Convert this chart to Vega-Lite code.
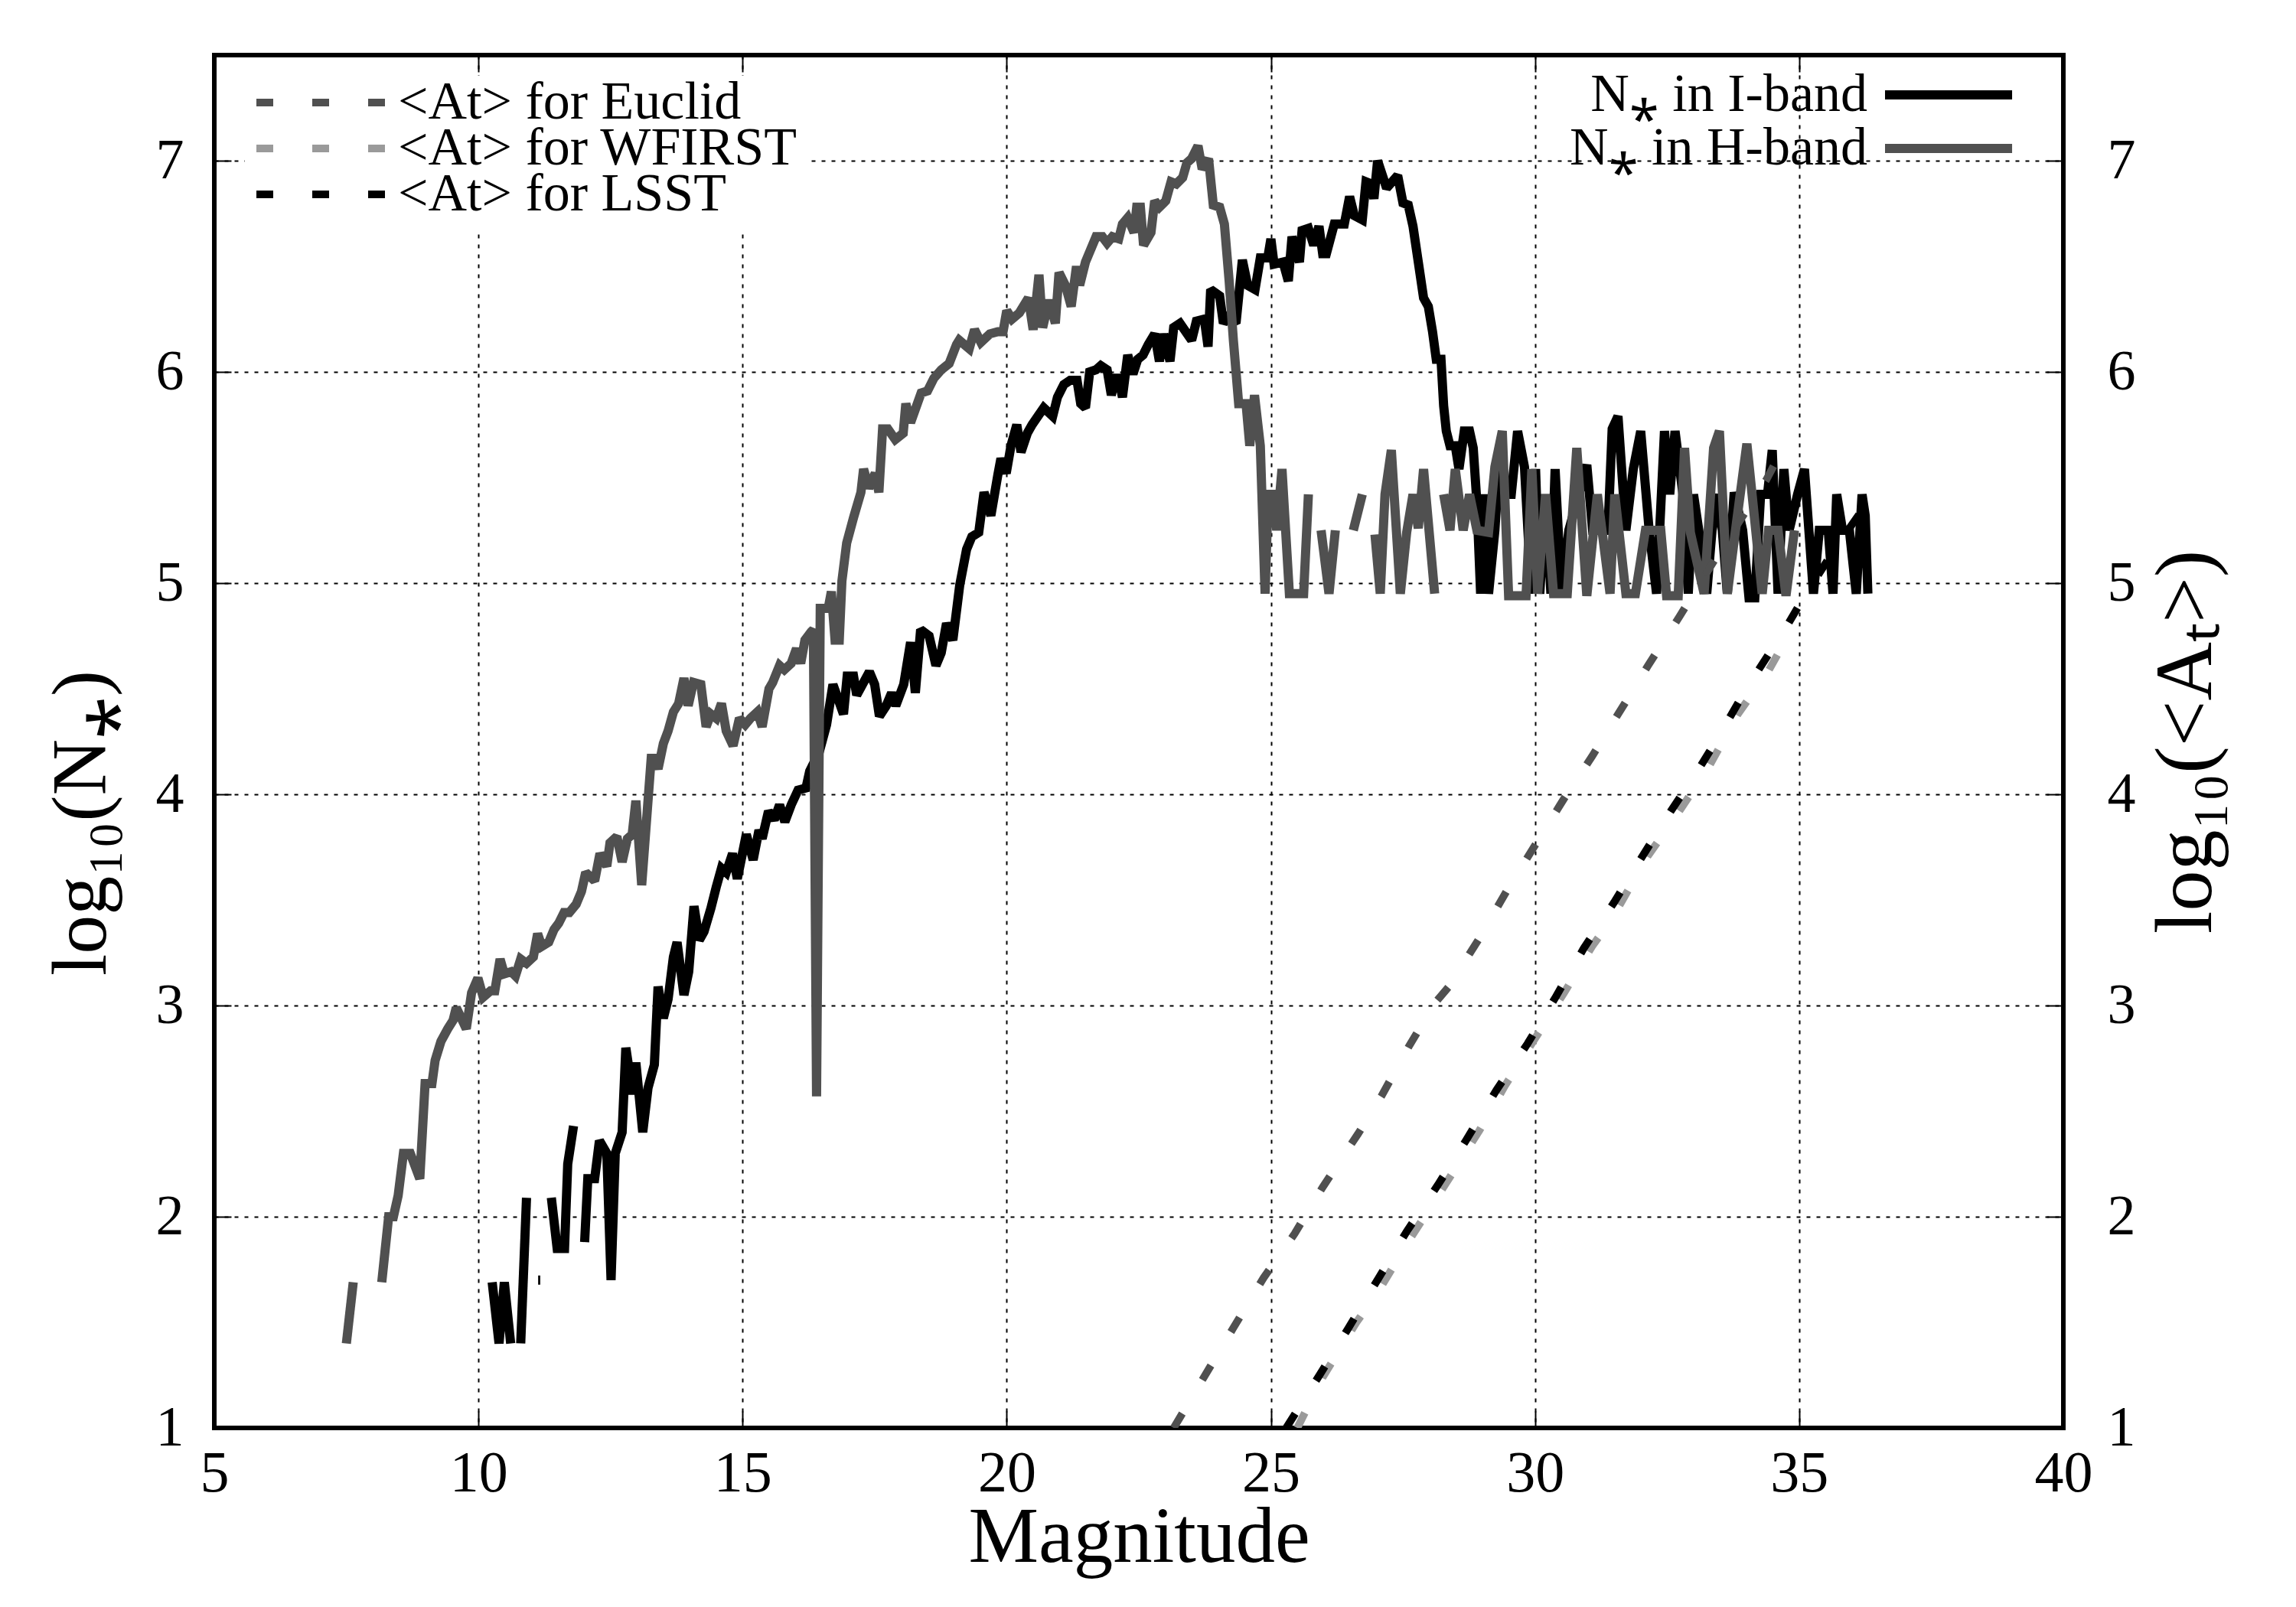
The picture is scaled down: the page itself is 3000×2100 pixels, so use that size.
{
"$schema": "https://vega.github.io/schema/vega-lite/v6.json",
"width": 2416, "height": 1794,
"autosize": {"type": "none"},
"padding": {"left": 280, "top": 72, "right": 304, "bottom": 234},
"background": "white",
"config": {
 "font": "Liberation Serif",
 "view": {"stroke": "black", "strokeWidth": 6},
 "axis": {"domain": false, "tickColor": "black", "tickWidth": 2, "tickSize": -22, "labelColor": "black", "titleColor": "black", "titleFontWeight": "normal", "gridColor": "black", "gridWidth": 2, "gridDash": [5, 8], "gridOpacity": 1, "labelFlush": false, "labelOverlap": false},
 "legend": {"labelColor": "black", "labelFontSize": 70, "labelLimit": 0, "title": null}
},
"datasets": {
 "nstar": [
  {"s":"N⁎ in I-band","g":"I1","m":10.26,"v":1.69},{"s":"N⁎ in I-band","g":"I1","m":10.39,"v":1.40},{"s":"N⁎ in I-band","g":"I1","m":10.49,"v":1.69},{"s":"N⁎ in I-band","g":"I1","m":10.61,"v":1.40},
  {"s":"N⁎ in I-band","g":"I2","m":10.80,"v":1.40},{"s":"N⁎ in I-band","g":"I2","m":10.91,"v":2.09},
  {"s":"N⁎ in I-band","g":"I3","m":11.13,"v":1.70},{"s":"N⁎ in I-band","g":"I3","m":11.17,"v":1.70},
  {"s":"N⁎ in I-band","g":"I4","m":11.38,"v":2.09},{"s":"N⁎ in I-band","g":"I4","m":11.49,"v":1.85},{"s":"N⁎ in I-band","g":"I4","m":11.63,"v":1.85},{"s":"N⁎ in I-band","g":"I4","m":11.69,"v":2.25},{"s":"N⁎ in I-band","g":"I4","m":11.80,"v":2.43},
  {"s":"N⁎ in I-band","g":"I5","m":12.01,"v":1.88},{"s":"N⁎ in I-band","g":"I5","m":12.07,"v":2.18},{"s":"N⁎ in I-band","g":"I5","m":12.20,"v":2.18},{"s":"N⁎ in I-band","g":"I5","m":12.29,"v":2.36},{"s":"N⁎ in I-band","g":"I5","m":12.43,"v":2.30},{"s":"N⁎ in I-band","g":"I5","m":12.51,"v":1.70},{"s":"N⁎ in I-band","g":"I5","m":12.59,"v":2.30},{"s":"N⁎ in I-band","g":"I5","m":12.72,"v":2.40},{"s":"N⁎ in I-band","g":"I5","m":12.79,"v":2.80},{"s":"N⁎ in I-band","g":"I5","m":12.92,"v":2.58},{"s":"N⁎ in I-band","g":"I5","m":12.98,"v":2.73},{"s":"N⁎ in I-band","g":"I5","m":13.11,"v":2.40},{"s":"N⁎ in I-band","g":"I5","m":13.21,"v":2.61},{"s":"N⁎ in I-band","g":"I5","m":13.33,"v":2.72},{"s":"N⁎ in I-band","g":"I5","m":13.40,"v":3.09},{"s":"N⁎ in I-band","g":"I5","m":13.50,"v":2.94},{"s":"N⁎ in I-band","g":"I5","m":13.59,"v":3.03},{"s":"N⁎ in I-band","g":"I5","m":13.69,"v":3.23},{"s":"N⁎ in I-band","g":"I5","m":13.76,"v":3.30},{"s":"N⁎ in I-band","g":"I5","m":13.89,"v":3.05},{"s":"N⁎ in I-band","g":"I5","m":13.98,"v":3.16},{"s":"N⁎ in I-band","g":"I5","m":14.08,"v":3.47},{"s":"N⁎ in I-band","g":"I5","m":14.18,"v":3.31},{"s":"N⁎ in I-band","g":"I5","m":14.27,"v":3.35},{"s":"N⁎ in I-band","g":"I5","m":14.40,"v":3.46},{"s":"N⁎ in I-band","g":"I5","m":14.50,"v":3.56},{"s":"N⁎ in I-band","g":"I5","m":14.60,"v":3.65},{"s":"N⁎ in I-band","g":"I5","m":14.69,"v":3.63},{"s":"N⁎ in I-band","g":"I5","m":14.81,"v":3.72},{"s":"N⁎ in I-band","g":"I5","m":14.90,"v":3.60},{"s":"N⁎ in I-band","g":"I5","m":15.07,"v":3.81},{"s":"N⁎ in I-band","g":"I5","m":15.20,"v":3.69},{"s":"N⁎ in I-band","g":"I5","m":15.31,"v":3.83},{"s":"N⁎ in I-band","g":"I5","m":15.37,"v":3.79},{"s":"N⁎ in I-band","g":"I5","m":15.49,"v":3.92},{"s":"N⁎ in I-band","g":"I5","m":15.60,"v":3.88},{"s":"N⁎ in I-band","g":"I5","m":15.70,"v":3.95},{"s":"N⁎ in I-band","g":"I5","m":15.80,"v":3.87},{"s":"N⁎ in I-band","g":"I5","m":15.92,"v":3.95},{"s":"N⁎ in I-band","g":"I5","m":16.05,"v":4.02},{"s":"N⁎ in I-band","g":"I5","m":16.20,"v":4.03},{"s":"N⁎ in I-band","g":"I5","m":16.27,"v":4.11},{"s":"N⁎ in I-band","g":"I5","m":16.45,"v":4.20},{"s":"N⁎ in I-band","g":"I5","m":16.59,"v":4.33},{"s":"N⁎ in I-band","g":"I5","m":16.71,"v":4.52},{"s":"N⁎ in I-band","g":"I5","m":16.91,"v":4.38},{"s":"N⁎ in I-band","g":"I5","m":16.98,"v":4.56},{"s":"N⁎ in I-band","g":"I5","m":17.10,"v":4.56},{"s":"N⁎ in I-band","g":"I5","m":17.16,"v":4.47},{"s":"N⁎ in I-band","g":"I5","m":17.27,"v":4.52},{"s":"N⁎ in I-band","g":"I5","m":17.40,"v":4.58},{"s":"N⁎ in I-band","g":"I5","m":17.50,"v":4.52},{"s":"N⁎ in I-band","g":"I5","m":17.59,"v":4.37},{"s":"N⁎ in I-band","g":"I5","m":17.72,"v":4.42},{"s":"N⁎ in I-band","g":"I5","m":17.82,"v":4.48},{"s":"N⁎ in I-band","g":"I5","m":17.90,"v":4.42},{"s":"N⁎ in I-band","g":"I5","m":18.05,"v":4.52},{"s":"N⁎ in I-band","g":"I5","m":18.18,"v":4.72},{"s":"N⁎ in I-band","g":"I5","m":18.27,"v":4.48},{"s":"N⁎ in I-band","g":"I5","m":18.37,"v":4.78},{"s":"N⁎ in I-band","g":"I5","m":18.53,"v":4.75},{"s":"N⁎ in I-band","g":"I5","m":18.66,"v":4.61},{"s":"N⁎ in I-band","g":"I5","m":18.76,"v":4.67},{"s":"N⁎ in I-band","g":"I5","m":18.86,"v":4.81},{"s":"N⁎ in I-band","g":"I5","m":18.98,"v":4.73},{"s":"N⁎ in I-band","g":"I5","m":19.11,"v":4.99},{"s":"N⁎ in I-band","g":"I5","m":19.24,"v":5.16},{"s":"N⁎ in I-band","g":"I5","m":19.34,"v":5.22},{"s":"N⁎ in I-band","g":"I5","m":19.47,"v":5.24},{"s":"N⁎ in I-band","g":"I5","m":19.57,"v":5.43},{"s":"N⁎ in I-band","g":"I5","m":19.70,"v":5.32},{"s":"N⁎ in I-band","g":"I5","m":19.83,"v":5.51},{"s":"N⁎ in I-band","g":"I5","m":19.89,"v":5.59},{"s":"N⁎ in I-band","g":"I5","m":19.99,"v":5.52},{"s":"N⁎ in I-band","g":"I5","m":20.08,"v":5.65},{"s":"N⁎ in I-band","g":"I5","m":20.19,"v":5.75},{"s":"N⁎ in I-band","g":"I5","m":20.27,"v":5.62},{"s":"N⁎ in I-band","g":"I5","m":20.39,"v":5.71},{"s":"N⁎ in I-band","g":"I5","m":20.48,"v":5.75},{"s":"N⁎ in I-band","g":"I5","m":20.70,"v":5.83},{"s":"N⁎ in I-band","g":"I5","m":20.87,"v":5.79},{"s":"N⁎ in I-band","g":"I5","m":20.96,"v":5.88},{"s":"N⁎ in I-band","g":"I5","m":21.08,"v":5.94},{"s":"N⁎ in I-band","g":"I5","m":21.20,"v":5.96},{"s":"N⁎ in I-band","g":"I5","m":21.33,"v":5.96},{"s":"N⁎ in I-band","g":"I5","m":21.40,"v":5.85},{"s":"N⁎ in I-band","g":"I5","m":21.49,"v":5.83},{"s":"N⁎ in I-band","g":"I5","m":21.57,"v":6.00},{"s":"N⁎ in I-band","g":"I5","m":21.69,"v":6.01},{"s":"N⁎ in I-band","g":"I5","m":21.78,"v":6.03},{"s":"N⁎ in I-band","g":"I5","m":21.90,"v":6.01},{"s":"N⁎ in I-band","g":"I5","m":21.98,"v":5.89},{"s":"N⁎ in I-band","g":"I5","m":22.05,"v":5.97},{"s":"N⁎ in I-band","g":"I5","m":22.12,"v":5.97},{"s":"N⁎ in I-band","g":"I5","m":22.19,"v":5.88},{"s":"N⁎ in I-band","g":"I5","m":22.29,"v":6.08},{"s":"N⁎ in I-band","g":"I5","m":22.39,"v":5.99},{"s":"N⁎ in I-band","g":"I5","m":22.48,"v":6.06},{"s":"N⁎ in I-band","g":"I5","m":22.58,"v":6.08},{"s":"N⁎ in I-band","g":"I5","m":22.68,"v":6.13},{"s":"N⁎ in I-band","g":"I5","m":22.80,"v":6.18},{"s":"N⁎ in I-band","g":"I5","m":22.89,"v":6.05},{"s":"N⁎ in I-band","g":"I5","m":22.97,"v":6.18},{"s":"N⁎ in I-band","g":"I5","m":23.09,"v":6.05},{"s":"N⁎ in I-band","g":"I5","m":23.16,"v":6.21},{"s":"N⁎ in I-band","g":"I5","m":23.28,"v":6.23},{"s":"N⁎ in I-band","g":"I5","m":23.50,"v":6.15},{"s":"N⁎ in I-band","g":"I5","m":23.59,"v":6.24},{"s":"N⁎ in I-band","g":"I5","m":23.74,"v":6.25},{"s":"N⁎ in I-band","g":"I5","m":23.81,"v":6.12},{"s":"N⁎ in I-band","g":"I5","m":23.86,"v":6.39},{"s":"N⁎ in I-band","g":"I5","m":24.03,"v":6.36},{"s":"N⁎ in I-band","g":"I5","m":24.10,"v":6.23},{"s":"N⁎ in I-band","g":"I5","m":24.19,"v":6.26},{"s":"N⁎ in I-band","g":"I5","m":24.34,"v":6.23},{"s":"N⁎ in I-band","g":"I5","m":24.46,"v":6.53},{"s":"N⁎ in I-band","g":"I5","m":24.56,"v":6.41},{"s":"N⁎ in I-band","g":"I5","m":24.70,"v":6.39},{"s":"N⁎ in I-band","g":"I5","m":24.80,"v":6.54},{"s":"N⁎ in I-band","g":"I5","m":24.94,"v":6.54},{"s":"N⁎ in I-band","g":"I5","m":25.00,"v":6.63},{"s":"N⁎ in I-band","g":"I5","m":25.06,"v":6.51},{"s":"N⁎ in I-band","g":"I5","m":25.23,"v":6.52},{"s":"N⁎ in I-band","g":"I5","m":25.33,"v":6.43},{"s":"N⁎ in I-band","g":"I5","m":25.40,"v":6.64},{"s":"N⁎ in I-band","g":"I5","m":25.54,"v":6.52},{"s":"N⁎ in I-band","g":"I5","m":25.59,"v":6.67},{"s":"N⁎ in I-band","g":"I5","m":25.71,"v":6.68},{"s":"N⁎ in I-band","g":"I5","m":25.81,"v":6.60},{"s":"N⁎ in I-band","g":"I5","m":25.91,"v":6.69},{"s":"N⁎ in I-band","g":"I5","m":25.98,"v":6.56},{"s":"N⁎ in I-band","g":"I5","m":26.05,"v":6.56},{"s":"N⁎ in I-band","g":"I5","m":26.20,"v":6.70},{"s":"N⁎ in I-band","g":"I5","m":26.39,"v":6.70},{"s":"N⁎ in I-band","g":"I5","m":26.49,"v":6.83},{"s":"N⁎ in I-band","g":"I5","m":26.58,"v":6.74},{"s":"N⁎ in I-band","g":"I5","m":26.73,"v":6.72},{"s":"N⁎ in I-band","g":"I5","m":26.80,"v":6.90},{"s":"N⁎ in I-band","g":"I5","m":26.90,"v":6.89},{"s":"N⁎ in I-band","g":"I5","m":26.95,"v":6.82},{"s":"N⁎ in I-band","g":"I5","m":27.02,"v":7.00},{"s":"N⁎ in I-band","g":"I5","m":27.19,"v":6.87},{"s":"N⁎ in I-band","g":"I5","m":27.40,"v":6.93},{"s":"N⁎ in I-band","g":"I5","m":27.50,"v":6.80},{"s":"N⁎ in I-band","g":"I5","m":27.60,"v":6.79},{"s":"N⁎ in I-band","g":"I5","m":27.69,"v":6.69},{"s":"N⁎ in I-band","g":"I5","m":27.79,"v":6.52},{"s":"N⁎ in I-band","g":"I5","m":27.89,"v":6.35},{"s":"N⁎ in I-band","g":"I5","m":27.98,"v":6.31},{"s":"N⁎ in I-band","g":"I5","m":28.06,"v":6.19},{"s":"N⁎ in I-band","g":"I5","m":28.13,"v":6.06},{"s":"N⁎ in I-band","g":"I5","m":28.22,"v":6.06},{"s":"N⁎ in I-band","g":"I5","m":28.27,"v":5.84},{"s":"N⁎ in I-band","g":"I5","m":28.32,"v":5.72},{"s":"N⁎ in I-band","g":"I5","m":28.39,"v":5.65},{"s":"N⁎ in I-band","g":"I5","m":28.49,"v":5.65},{"s":"N⁎ in I-band","g":"I5","m":28.56,"v":5.54},{"s":"N⁎ in I-band","g":"I5","m":28.66,"v":5.72},{"s":"N⁎ in I-band","g":"I5","m":28.76,"v":5.72},{"s":"N⁎ in I-band","g":"I5","m":28.83,"v":5.64},{"s":"N⁎ in I-band","g":"I5","m":28.90,"v":5.38},{"s":"N⁎ in I-band","g":"I5","m":28.97,"v":4.95},{"s":"N⁎ in I-band","g":"I5","m":29.05,"v":5.42},{"s":"N⁎ in I-band","g":"I5","m":29.12,"v":4.95},{"s":"N⁎ in I-band","g":"I5","m":29.24,"v":5.25},{"s":"N⁎ in I-band","g":"I5","m":29.31,"v":5.53},{"s":"N⁎ in I-band","g":"I5","m":29.45,"v":5.42},{"s":"N⁎ in I-band","g":"I5","m":29.55,"v":5.42},{"s":"N⁎ in I-band","g":"I5","m":29.67,"v":5.72},{"s":"N⁎ in I-band","g":"I5","m":29.80,"v":5.55},{"s":"N⁎ in I-band","g":"I5","m":29.93,"v":4.95},{"s":"N⁎ in I-band","g":"I5","m":30.01,"v":5.54},{"s":"N⁎ in I-band","g":"I5","m":30.09,"v":4.95},{"s":"N⁎ in I-band","g":"I5","m":30.20,"v":5.42},{"s":"N⁎ in I-band","g":"I5","m":30.30,"v":4.95},{"s":"N⁎ in I-band","g":"I5","m":30.38,"v":5.54},{"s":"N⁎ in I-band","g":"I5","m":30.50,"v":4.95},{"s":"N⁎ in I-band","g":"I5","m":30.64,"v":5.25},{"s":"N⁎ in I-band","g":"I5","m":30.98,"v":5.56},{"s":"N⁎ in I-band","g":"I5","m":31.09,"v":5.25},{"s":"N⁎ in I-band","g":"I5","m":31.38,"v":5.25},{"s":"N⁎ in I-band","g":"I5","m":31.46,"v":5.73},{"s":"N⁎ in I-band","g":"I5","m":31.57,"v":5.79},{"s":"N⁎ in I-band","g":"I5","m":31.72,"v":5.25},{"s":"N⁎ in I-band","g":"I5","m":31.86,"v":5.54},{"s":"N⁎ in I-band","g":"I5","m":32.00,"v":5.72},{"s":"N⁎ in I-band","g":"I5","m":32.16,"v":5.25},{"s":"N⁎ in I-band","g":"I5","m":32.30,"v":4.95},{"s":"N⁎ in I-band","g":"I5","m":32.45,"v":5.72},{"s":"N⁎ in I-band","g":"I5","m":32.55,"v":5.42},{"s":"N⁎ in I-band","g":"I5","m":32.65,"v":5.72},{"s":"N⁎ in I-band","g":"I5","m":32.80,"v":5.42},{"s":"N⁎ in I-band","g":"I5","m":32.90,"v":4.95},{"s":"N⁎ in I-band","g":"I5","m":33.00,"v":5.42},{"s":"N⁎ in I-band","g":"I5","m":33.10,"v":5.25},{"s":"N⁎ in I-band","g":"I5","m":33.25,"v":4.95},{"s":"N⁎ in I-band","g":"I5","m":33.35,"v":5.25},{"s":"N⁎ in I-band","g":"I5","m":33.49,"v":5.42},{"s":"N⁎ in I-band","g":"I5","m":33.64,"v":4.95},{"s":"N⁎ in I-band","g":"I5","m":33.77,"v":5.43},{"s":"N⁎ in I-band","g":"I5","m":33.93,"v":5.25},{"s":"N⁎ in I-band","g":"I5","m":34.05,"v":4.93},{"s":"N⁎ in I-band","g":"I5","m":34.16,"v":4.93},{"s":"N⁎ in I-band","g":"I5","m":34.27,"v":5.42},{"s":"N⁎ in I-band","g":"I5","m":34.40,"v":5.42},{"s":"N⁎ in I-band","g":"I5","m":34.49,"v":5.63},{"s":"N⁎ in I-band","g":"I5","m":34.60,"v":4.95},{"s":"N⁎ in I-band","g":"I5","m":34.71,"v":5.54},{"s":"N⁎ in I-band","g":"I5","m":34.81,"v":5.25},{"s":"N⁎ in I-band","g":"I5","m":34.97,"v":5.42},{"s":"N⁎ in I-band","g":"I5","m":35.10,"v":5.54},{"s":"N⁎ in I-band","g":"I5","m":35.27,"v":4.95},{"s":"N⁎ in I-band","g":"I5","m":35.38,"v":5.25},{"s":"N⁎ in I-band","g":"I5","m":35.55,"v":5.25},{"s":"N⁎ in I-band","g":"I5","m":35.64,"v":4.95},{"s":"N⁎ in I-band","g":"I5","m":35.71,"v":5.42},{"s":"N⁎ in I-band","g":"I5","m":35.82,"v":5.25},{"s":"N⁎ in I-band","g":"I5","m":35.95,"v":5.25},{"s":"N⁎ in I-band","g":"I5","m":36.08,"v":4.95},{"s":"N⁎ in I-band","g":"I5","m":36.19,"v":5.42},{"s":"N⁎ in I-band","g":"I5","m":36.25,"v":5.32},{"s":"N⁎ in I-band","g":"I5","m":36.30,"v":4.95},
  {"s":"N⁎ in H-band","g":"H1","m":7.50,"v":1.40},{"s":"N⁎ in H-band","g":"H1","m":7.63,"v":1.69},
  {"s":"N⁎ in H-band","g":"H2","m":8.17,"v":1.69},{"s":"N⁎ in H-band","g":"H2","m":8.30,"v":2.00},{"s":"N⁎ in H-band","g":"H2","m":8.39,"v":2.00},{"s":"N⁎ in H-band","g":"H2","m":8.48,"v":2.10},{"s":"N⁎ in H-band","g":"H2","m":8.58,"v":2.30},{"s":"N⁎ in H-band","g":"H2","m":8.71,"v":2.30},{"s":"N⁎ in H-band","g":"H2","m":8.89,"v":2.18},{"s":"N⁎ in H-band","g":"H2","m":8.99,"v":2.63},{"s":"N⁎ in H-band","g":"H2","m":9.12,"v":2.63},{"s":"N⁎ in H-band","g":"H2","m":9.18,"v":2.74},{"s":"N⁎ in H-band","g":"H2","m":9.29,"v":2.83},{"s":"N⁎ in H-band","g":"H2","m":9.42,"v":2.89},{"s":"N⁎ in H-band","g":"H2","m":9.52,"v":2.93},{"s":"N⁎ in H-band","g":"H2","m":9.58,"v":2.99},{"s":"N⁎ in H-band","g":"H2","m":9.77,"v":2.89},{"s":"N⁎ in H-band","g":"H2","m":9.87,"v":3.06},{"s":"N⁎ in H-band","g":"H2","m":9.99,"v":3.13},{"s":"N⁎ in H-band","g":"H2","m":10.09,"v":3.04},{"s":"N⁎ in H-band","g":"H2","m":10.23,"v":3.07},{"s":"N⁎ in H-band","g":"H2","m":10.31,"v":3.07},{"s":"N⁎ in H-band","g":"H2","m":10.41,"v":3.22},{"s":"N⁎ in H-band","g":"H2","m":10.49,"v":3.15},{"s":"N⁎ in H-band","g":"H2","m":10.62,"v":3.16},{"s":"N⁎ in H-band","g":"H2","m":10.70,"v":3.14},{"s":"N⁎ in H-band","g":"H2","m":10.80,"v":3.22},{"s":"N⁎ in H-band","g":"H2","m":10.91,"v":3.20},{"s":"N⁎ in H-band","g":"H2","m":11.04,"v":3.23},{"s":"N⁎ in H-band","g":"H2","m":11.12,"v":3.34},{"s":"N⁎ in H-band","g":"H2","m":11.20,"v":3.28},{"s":"N⁎ in H-band","g":"H2","m":11.33,"v":3.30},{"s":"N⁎ in H-band","g":"H2","m":11.43,"v":3.36},{"s":"N⁎ in H-band","g":"H2","m":11.52,"v":3.39},{"s":"N⁎ in H-band","g":"H2","m":11.62,"v":3.44},{"s":"N⁎ in H-band","g":"H2","m":11.72,"v":3.44},{"s":"N⁎ in H-band","g":"H2","m":11.85,"v":3.48},{"s":"N⁎ in H-band","g":"H2","m":11.95,"v":3.54},{"s":"N⁎ in H-band","g":"H2","m":12.03,"v":3.63},{"s":"N⁎ in H-band","g":"H2","m":12.20,"v":3.59},{"s":"N⁎ in H-band","g":"H2","m":12.30,"v":3.72},{"s":"N⁎ in H-band","g":"H2","m":12.43,"v":3.66},{"s":"N⁎ in H-band","g":"H2","m":12.49,"v":3.77},{"s":"N⁎ in H-band","g":"H2","m":12.62,"v":3.80},{"s":"N⁎ in H-band","g":"H2","m":12.72,"v":3.68},{"s":"N⁎ in H-band","g":"H2","m":12.82,"v":3.79},{"s":"N⁎ in H-band","g":"H2","m":12.91,"v":3.81},{"s":"N⁎ in H-band","g":"H2","m":12.98,"v":3.97},{"s":"N⁎ in H-band","g":"H2","m":13.09,"v":3.57},{"s":"N⁎ in H-band","g":"H2","m":13.27,"v":4.17},{"s":"N⁎ in H-band","g":"H2","m":13.33,"v":4.17},{"s":"N⁎ in H-band","g":"H2","m":13.40,"v":4.12},{"s":"N⁎ in H-band","g":"H2","m":13.50,"v":4.24},{"s":"N⁎ in H-band","g":"H2","m":13.59,"v":4.30},{"s":"N⁎ in H-band","g":"H2","m":13.69,"v":4.39},{"s":"N⁎ in H-band","g":"H2","m":13.79,"v":4.43},{"s":"N⁎ in H-band","g":"H2","m":13.89,"v":4.55},{"s":"N⁎ in H-band","g":"H2","m":13.97,"v":4.42},{"s":"N⁎ in H-band","g":"H2","m":14.07,"v":4.53},{"s":"N⁎ in H-band","g":"H2","m":14.21,"v":4.52},{"s":"N⁎ in H-band","g":"H2","m":14.31,"v":4.32},{"s":"N⁎ in H-band","g":"H2","m":14.40,"v":4.38},{"s":"N⁎ in H-band","g":"H2","m":14.50,"v":4.36},{"s":"N⁎ in H-band","g":"H2","m":14.60,"v":4.43},{"s":"N⁎ in H-band","g":"H2","m":14.69,"v":4.30},{"s":"N⁎ in H-band","g":"H2","m":14.82,"v":4.23},{"s":"N⁎ in H-band","g":"H2","m":14.94,"v":4.36},{"s":"N⁎ in H-band","g":"H2","m":15.05,"v":4.33},{"s":"N⁎ in H-band","g":"H2","m":15.15,"v":4.36},{"s":"N⁎ in H-band","g":"H2","m":15.28,"v":4.39},{"s":"N⁎ in H-band","g":"H2","m":15.37,"v":4.32},{"s":"N⁎ in H-band","g":"H2","m":15.50,"v":4.50},{"s":"N⁎ in H-band","g":"H2","m":15.57,"v":4.53},{"s":"N⁎ in H-band","g":"H2","m":15.70,"v":4.61},{"s":"N⁎ in H-band","g":"H2","m":15.79,"v":4.59},{"s":"N⁎ in H-band","g":"H2","m":15.92,"v":4.62},{"s":"N⁎ in H-band","g":"H2","m":16.02,"v":4.69},{"s":"N⁎ in H-band","g":"H2","m":16.10,"v":4.62},{"s":"N⁎ in H-band","g":"H2","m":16.18,"v":4.73},{"s":"N⁎ in H-band","g":"H2","m":16.30,"v":4.77},{"s":"N⁎ in H-band","g":"H2","m":16.34,"v":4.78},{"s":"N⁎ in H-band","g":"H2","m":16.40,"v":2.57},{"s":"N⁎ in H-band","g":"H2","m":16.47,"v":4.88},{"s":"N⁎ in H-band","g":"H2","m":16.62,"v":4.88},{"s":"N⁎ in H-band","g":"H2","m":16.68,"v":4.96},{"s":"N⁎ in H-band","g":"H2","m":16.75,"v":4.73},{"s":"N⁎ in H-band","g":"H2","m":16.83,"v":4.73},{"s":"N⁎ in H-band","g":"H2","m":16.88,"v":5.01},{"s":"N⁎ in H-band","g":"H2","m":16.97,"v":5.19},{"s":"N⁎ in H-band","g":"H2","m":17.10,"v":5.31},{"s":"N⁎ in H-band","g":"H2","m":17.24,"v":5.43},{"s":"N⁎ in H-band","g":"H2","m":17.29,"v":5.54},{"s":"N⁎ in H-band","g":"H2","m":17.39,"v":5.45},{"s":"N⁎ in H-band","g":"H2","m":17.51,"v":5.52},{"s":"N⁎ in H-band","g":"H2","m":17.58,"v":5.43},{"s":"N⁎ in H-band","g":"H2","m":17.65,"v":5.73},{"s":"N⁎ in H-band","g":"H2","m":17.75,"v":5.73},{"s":"N⁎ in H-band","g":"H2","m":17.89,"v":5.68},{"s":"N⁎ in H-band","g":"H2","m":18.04,"v":5.71},{"s":"N⁎ in H-band","g":"H2","m":18.09,"v":5.85},{"s":"N⁎ in H-band","g":"H2","m":18.18,"v":5.76},{"s":"N⁎ in H-band","g":"H2","m":18.38,"v":5.90},{"s":"N⁎ in H-band","g":"H2","m":18.50,"v":5.91},{"s":"N⁎ in H-band","g":"H2","m":18.62,"v":5.97},{"s":"N⁎ in H-band","g":"H2","m":18.76,"v":6.01},{"s":"N⁎ in H-band","g":"H2","m":18.91,"v":6.04},{"s":"N⁎ in H-band","g":"H2","m":19.05,"v":6.13},{"s":"N⁎ in H-band","g":"H2","m":19.10,"v":6.15},{"s":"N⁎ in H-band","g":"H2","m":19.29,"v":6.11},{"s":"N⁎ in H-band","g":"H2","m":19.39,"v":6.20},{"s":"N⁎ in H-band","g":"H2","m":19.51,"v":6.14},{"s":"N⁎ in H-band","g":"H2","m":19.68,"v":6.18},{"s":"N⁎ in H-band","g":"H2","m":19.83,"v":6.19},{"s":"N⁎ in H-band","g":"H2","m":19.93,"v":6.19},{"s":"N⁎ in H-band","g":"H2","m":20.00,"v":6.29},{"s":"N⁎ in H-band","g":"H2","m":20.10,"v":6.25},{"s":"N⁎ in H-band","g":"H2","m":20.24,"v":6.28},{"s":"N⁎ in H-band","g":"H2","m":20.41,"v":6.35},{"s":"N⁎ in H-band","g":"H2","m":20.50,"v":6.20},{"s":"N⁎ in H-band","g":"H2","m":20.61,"v":6.46},{"s":"N⁎ in H-band","g":"H2","m":20.68,"v":6.21},{"s":"N⁎ in H-band","g":"H2","m":20.80,"v":6.34},{"s":"N⁎ in H-band","g":"H2","m":20.92,"v":6.23},{"s":"N⁎ in H-band","g":"H2","m":20.99,"v":6.47},{"s":"N⁎ in H-band","g":"H2","m":21.11,"v":6.41},{"s":"N⁎ in H-band","g":"H2","m":21.22,"v":6.31},{"s":"N⁎ in H-band","g":"H2","m":21.32,"v":6.50},{"s":"N⁎ in H-band","g":"H2","m":21.38,"v":6.41},{"s":"N⁎ in H-band","g":"H2","m":21.49,"v":6.52},{"s":"N⁎ in H-band","g":"H2","m":21.69,"v":6.64},{"s":"N⁎ in H-band","g":"H2","m":21.81,"v":6.64},{"s":"N⁎ in H-band","g":"H2","m":21.90,"v":6.61},{"s":"N⁎ in H-band","g":"H2","m":22.00,"v":6.64},{"s":"N⁎ in H-band","g":"H2","m":22.12,"v":6.63},{"s":"N⁎ in H-band","g":"H2","m":22.19,"v":6.70},{"s":"N⁎ in H-band","g":"H2","m":22.29,"v":6.73},{"s":"N⁎ in H-band","g":"H2","m":22.41,"v":6.66},{"s":"N⁎ in H-band","g":"H2","m":22.46,"v":6.78},{"s":"N⁎ in H-band","g":"H2","m":22.53,"v":6.78},{"s":"N⁎ in H-band","g":"H2","m":22.59,"v":6.60},{"s":"N⁎ in H-band","g":"H2","m":22.73,"v":6.66},{"s":"N⁎ in H-band","g":"H2","m":22.80,"v":6.81},{"s":"N⁎ in H-band","g":"H2","m":22.89,"v":6.78},{"s":"N⁎ in H-band","g":"H2","m":23.01,"v":6.81},{"s":"N⁎ in H-band","g":"H2","m":23.11,"v":6.90},{"s":"N⁎ in H-band","g":"H2","m":23.21,"v":6.89},{"s":"N⁎ in H-band","g":"H2","m":23.33,"v":6.92},{"s":"N⁎ in H-band","g":"H2","m":23.41,"v":6.99},{"s":"N⁎ in H-band","g":"H2","m":23.50,"v":7.01},{"s":"N⁎ in H-band","g":"H2","m":23.62,"v":7.07},{"s":"N⁎ in H-band","g":"H2","m":23.70,"v":6.96},{"s":"N⁎ in H-band","g":"H2","m":23.82,"v":7.01},{"s":"N⁎ in H-band","g":"H2","m":23.91,"v":6.79},{"s":"N⁎ in H-band","g":"H2","m":24.03,"v":6.78},{"s":"N⁎ in H-band","g":"H2","m":24.12,"v":6.70},{"s":"N⁎ in H-band","g":"H2","m":24.21,"v":6.43},{"s":"N⁎ in H-band","g":"H2","m":24.29,"v":6.15},{"s":"N⁎ in H-band","g":"H2","m":24.39,"v":5.85},{"s":"N⁎ in H-band","g":"H2","m":24.53,"v":5.85},{"s":"N⁎ in H-band","g":"H2","m":24.60,"v":5.65},{"s":"N⁎ in H-band","g":"H2","m":24.69,"v":5.89},{"s":"N⁎ in H-band","g":"H2","m":24.80,"v":5.65},{"s":"N⁎ in H-band","g":"H2","m":24.89,"v":4.95},{"s":"N⁎ in H-band","g":"H2","m":24.95,"v":5.42},{"s":"N⁎ in H-band","g":"H2","m":25.05,"v":5.42},{"s":"N⁎ in H-band","g":"H2","m":25.11,"v":5.25},{"s":"N⁎ in H-band","g":"H2","m":25.21,"v":5.54},{"s":"N⁎ in H-band","g":"H2","m":25.35,"v":4.95},{"s":"N⁎ in H-band","g":"H2","m":25.62,"v":4.95},{"s":"N⁎ in H-band","g":"H2","m":25.71,"v":5.42},
  {"s":"N⁎ in H-band","g":"H3","m":25.95,"v":5.25},{"s":"N⁎ in H-band","g":"H3","m":26.10,"v":4.95},{"s":"N⁎ in H-band","g":"H3","m":26.22,"v":5.25},
  {"s":"N⁎ in H-band","g":"H4","m":26.56,"v":5.25},{"s":"N⁎ in H-band","g":"H4","m":26.73,"v":5.42},
  {"s":"N⁎ in H-band","g":"H5","m":26.97,"v":5.23},{"s":"N⁎ in H-band","g":"H5","m":27.07,"v":4.95},{"s":"N⁎ in H-band","g":"H5","m":27.16,"v":5.42},{"s":"N⁎ in H-band","g":"H5","m":27.28,"v":5.63},{"s":"N⁎ in H-band","g":"H5","m":27.45,"v":4.95},{"s":"N⁎ in H-band","g":"H5","m":27.57,"v":5.24},{"s":"N⁎ in H-band","g":"H5","m":27.69,"v":5.42},{"s":"N⁎ in H-band","g":"H5","m":27.79,"v":5.26},{"s":"N⁎ in H-band","g":"H5","m":27.89,"v":5.54},{"s":"N⁎ in H-band","g":"H5","m":28.10,"v":4.95},
  {"s":"N⁎ in H-band","g":"H6","m":28.27,"v":5.42},{"s":"N⁎ in H-band","g":"H6","m":28.39,"v":5.25},{"s":"N⁎ in H-band","g":"H6","m":28.49,"v":5.54},{"s":"N⁎ in H-band","g":"H6","m":28.64,"v":5.25},{"s":"N⁎ in H-band","g":"H6","m":28.76,"v":5.42},{"s":"N⁎ in H-band","g":"H6","m":28.90,"v":5.25},{"s":"N⁎ in H-band","g":"H6","m":29.12,"v":5.24},{"s":"N⁎ in H-band","g":"H6","m":29.24,"v":5.55},{"s":"N⁎ in H-band","g":"H6","m":29.38,"v":5.72},{"s":"N⁎ in H-band","g":"H6","m":29.50,"v":4.94},{"s":"N⁎ in H-band","g":"H6","m":29.83,"v":4.94},{"s":"N⁎ in H-band","g":"H6","m":29.94,"v":5.54},{"s":"N⁎ in H-band","g":"H6","m":30.05,"v":4.95},{"s":"N⁎ in H-band","g":"H6","m":30.20,"v":5.42},{"s":"N⁎ in H-band","g":"H6","m":30.35,"v":4.95},{"s":"N⁎ in H-band","g":"H6","m":30.61,"v":4.95},{"s":"N⁎ in H-band","g":"H6","m":30.79,"v":5.64},{"s":"N⁎ in H-band","g":"H6","m":30.98,"v":4.94},{"s":"N⁎ in H-band","g":"H6","m":31.18,"v":5.42},{"s":"N⁎ in H-band","g":"H6","m":31.42,"v":4.95},{"s":"N⁎ in H-band","g":"H6","m":31.51,"v":5.42},{"s":"N⁎ in H-band","g":"H6","m":31.72,"v":4.95},{"s":"N⁎ in H-band","g":"H6","m":31.90,"v":4.95},{"s":"N⁎ in H-band","g":"H6","m":32.09,"v":5.25},{"s":"N⁎ in H-band","g":"H6","m":32.38,"v":5.25},{"s":"N⁎ in H-band","g":"H6","m":32.49,"v":4.94},{"s":"N⁎ in H-band","g":"H6","m":32.71,"v":4.94},{"s":"N⁎ in H-band","g":"H6","m":32.83,"v":5.64},{"s":"N⁎ in H-band","g":"H6","m":32.94,"v":5.24},{"s":"N⁎ in H-band","g":"H6","m":33.20,"v":4.95},{"s":"N⁎ in H-band","g":"H6","m":33.38,"v":5.64},{"s":"N⁎ in H-band","g":"H6","m":33.49,"v":5.72},{"s":"N⁎ in H-band","g":"H6","m":33.64,"v":4.95},{"s":"N⁎ in H-band","g":"H6","m":33.82,"v":5.30},{"s":"N⁎ in H-band","g":"H6","m":34.01,"v":5.66},{"s":"N⁎ in H-band","g":"H6","m":34.30,"v":4.95},{"s":"N⁎ in H-band","g":"H6","m":34.42,"v":5.25},{"s":"N⁎ in H-band","g":"H6","m":34.60,"v":5.25},{"s":"N⁎ in H-band","g":"H6","m":34.75,"v":4.94},{"s":"N⁎ in H-band","g":"H6","m":34.91,"v":5.25}
 ],
 "at": [
  {"s":"<At> for Euclid","m":23.16,"v":1.00},{"s":"<At> for Euclid","m":24.28,"v":1.47},{"s":"<At> for Euclid","m":24.86,"v":1.71},{"s":"<At> for Euclid","m":25.45,"v":1.92},{"s":"<At> for Euclid","m":25.98,"v":2.14},{"s":"<At> for Euclid","m":26.67,"v":2.40},{"s":"<At> for Euclid","m":27.09,"v":2.57},{"s":"<At> for Euclid","m":27.62,"v":2.81},{"s":"<At> for Euclid","m":28.10,"v":3.01},{"s":"<At> for Euclid","m":28.37,"v":3.09},{"s":"<At> for Euclid","m":28.95,"v":3.32},{"s":"<At> for Euclid","m":29.48,"v":3.55},{"s":"<At> for Euclid","m":30.55,"v":3.98},{"s":"<At> for Euclid","m":31.08,"v":4.18},{"s":"<At> for Euclid","m":31.45,"v":4.33},{"s":"<At> for Euclid","m":32.14,"v":4.61},{"s":"<At> for Euclid","m":32.73,"v":4.84},{"s":"<At> for Euclid","m":33.50,"v":5.15},{"s":"<At> for Euclid","m":34.38,"v":5.49},{"s":"<At> for Euclid","m":34.82,"v":5.70},
  {"s":"<At> for WFIRST","m":25.50,"v":1.00},{"s":"<At> for WFIRST","m":25.98,"v":1.24},{"s":"<At> for WFIRST","m":26.62,"v":1.50},{"s":"<At> for WFIRST","m":27.09,"v":1.67},{"s":"<At> for WFIRST","m":27.62,"v":1.89},{"s":"<At> for WFIRST","m":28.37,"v":2.18},{"s":"<At> for WFIRST","m":28.95,"v":2.41},{"s":"<At> for WFIRST","m":29.43,"v":2.62},{"s":"<At> for WFIRST","m":30.55,"v":3.06},{"s":"<At> for WFIRST","m":31.08,"v":3.28},{"s":"<At> for WFIRST","m":31.45,"v":3.41},{"s":"<At> for WFIRST","m":32.14,"v":3.71},{"s":"<At> for WFIRST","m":32.73,"v":3.92},{"s":"<At> for WFIRST","m":33.31,"v":4.14},{"s":"<At> for WFIRST","m":33.84,"v":4.38},{"s":"<At> for WFIRST","m":34.43,"v":4.59},{"s":"<At> for WFIRST","m":34.90,"v":4.80},
  {"s":"<At> for LSST","m":25.29,"v":1.00},{"s":"<At> for LSST","m":25.92,"v":1.25},{"s":"<At> for LSST","m":26.46,"v":1.47},{"s":"<At> for LSST","m":27.04,"v":1.71},{"s":"<At> for LSST","m":27.57,"v":1.93},{"s":"<At> for LSST","m":28.16,"v":2.15},{"s":"<At> for LSST","m":28.69,"v":2.36},{"s":"<At> for LSST","m":29.27,"v":2.60},{"s":"<At> for LSST","m":29.86,"v":2.82},{"s":"<At> for LSST","m":30.39,"v":3.04},{"s":"<At> for LSST","m":30.92,"v":3.27},{"s":"<At> for LSST","m":31.50,"v":3.49},{"s":"<At> for LSST","m":32.04,"v":3.71},{"s":"<At> for LSST","m":32.57,"v":3.92},{"s":"<At> for LSST","m":33.10,"v":4.12},{"s":"<At> for LSST","m":33.47,"v":4.27},{"s":"<At> for LSST","m":34.00,"v":4.50},{"s":"<At> for LSST","m":34.75,"v":4.79},{"s":"<At> for LSST","m":35.08,"v":4.93},{"s":"<At> for LSST","m":35.67,"v":5.16},{"s":"<At> for LSST","m":36.26,"v":5.37}
 ]
},
"layer": [
 {
  "data": {"name": "nstar"},
  "mark": {"type": "line", "strokeWidth": 12, "clip": true, "strokeJoin": "miter", "strokeMiterLimit": 2, "strokeCap": "butt"},
  "encoding": {
   "x": {"field": "m", "type": "quantitative", "scale": {"domain": [5, 40], "nice": false, "zero": false},
    "axis": {"orient": "bottom", "values": [5, 10, 15, 20, 25, 30, 35, 40], "grid": true, "labelFontSize": 76, "labelPadding": 44, "title": "Magnitude", "titleFontSize": 103, "titlePadding": -4}},
   "y": {"field": "v", "type": "quantitative", "scale": {"domain": [1, 7.5], "nice": false, "zero": false},
    "axis": {"orient": "left", "values": [1, 2, 3, 4, 5, 6, 7], "grid": true, "labelFontSize": 74, "labelPadding": 62, "title": "log₁₀(N⁎)", "titleFontSize": 102, "titlePadding": 45, "titleY": 1003}},
   "stroke": {"field": "s", "type": "nominal", "scale": {"domain": ["N⁎ in I-band", "N⁎ in H-band"], "range": ["#000000", "#505050"]},
    "legend": {"orient": "none", "legendX": 2171, "legendY": 17, "direction": "vertical", "symbolType": "M-1,0H6.22", "symbolSize": 2116, "symbolStrokeWidth": 12, "symbolFillColor": "transparent", "labelAlign": "right", "labelOffset": -81, "rowPadding": -29, "padding": 0, "labelFontSize": 70}},
   "detail": {"field": "g"}
  }
 },
 {
  "data": {"name": "at"},
  "mark": {"type": "line", "strokeWidth": 10, "strokeDash": [22, 51], "clip": true, "strokeCap": "butt"},
  "encoding": {
   "x": {"field": "m", "type": "quantitative", "scale": {"domain": [5, 40], "nice": false, "zero": false},
    "axis": {"orient": "top", "values": [5, 10, 15, 20, 25, 30, 35, 40], "grid": false, "labels": false, "title": null}},
   "y": {"field": "v", "type": "quantitative", "scale": {"domain": [1, 7.5], "nice": false, "zero": false},
    "axis": {"orient": "right", "values": [1, 2, 3, 4, 5, 6, 7], "grid": false, "labelFontSize": 74, "labelPadding": 79, "title": "log₁₀(<Aₜ>)", "titleFontSize": 106, "titleAngle": 270, "titleBaseline": "alphabetic", "titlePadding": 98}},
   "color": {"field": "s", "type": "nominal", "scale": {"domain": ["<At> for Euclid", "<At> for WFIRST", "<At> for LSST"], "range": ["#505050", "#9a9a9a", "#000000"]},
    "legend": {"orient": "none", "legendX": 40, "legendY": 27, "direction": "vertical", "symbolType": "stroke", "symbolSize": 28224, "symbolStrokeWidth": 10, "symbolDash": [22, 51], "clipHeight": 50, "labelOffset": 12, "rowPadding": -29, "padding": 10, "fillColor": "white", "labelFontSize": 70}}
  }
 }
],
"resolve": {"axis": {"x": "independent", "y": "independent"}}
}
